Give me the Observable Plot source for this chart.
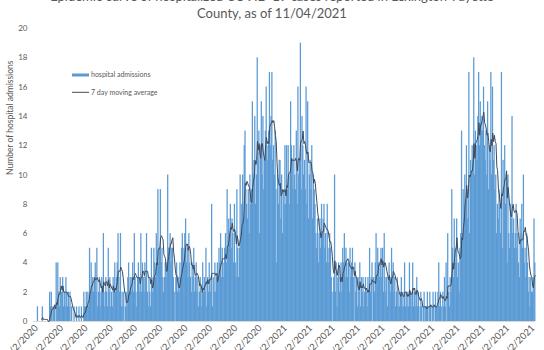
<!DOCTYPE html>
<html><head><meta charset="utf-8">
<script src="https://cdn.jsdelivr.net/npm/d3@7"></script>
<script src="https://cdn.jsdelivr.net/npm/@observablehq/plot@0.6"></script>
<style>
html,body{margin:0;padding:0;background:#fff;overflow:hidden;}
#wrap{position:relative;width:544px;height:350px;overflow:hidden;font-family:Lato,"Open Sans",sans-serif;}
#title{position:absolute;left:0;top:-12.3px;width:544px;text-align:center;font-size:13px;line-height:17.5px;color:#595959;white-space:nowrap;}
#chart{position:absolute;left:0;top:0;}
</style></head>
<body>
<div id="wrap">
  <div id="chart"></div>
  <div id="title">Epidemic curve of hospitalized COVID-19 cases reported in Lexington-Fayette<br>County, as of 11/04/2021</div>
</div>
<script>
// Daily hospital admissions, starting 3/2/2020, one array per month
const mar2020 = [0,1,0,0,0,0,0,1,0,0,0,0,0,0,0,0,2,1,2,1,0,1,1,0,4,1,4,2,1,3];
const apr2020 = [2,2,3,1,2,1,3,2,1,2,1,2,0,1,0,0,1,0,0,1,0,0,1,0,0,1,0,0,2,1];
const may2020 = [1,2,1,2,1,5,2,4,2,3,2,3,4,2,5,1,2,3,1,2,3,2,6,1,2,3,2,1,5,2,3];
const jun2020 = [1,2,1,3,2,4,2,3,4,6,3,2,6,1,2,1,2,0,1,2,1,3,4,2,3,2,3,4,2,6];
const jul2020 = [3,2,1,3,4,2,3,6,2,4,3,2,4,3,6,2,1,3,2,1,5,2,3,5,4,3,6,4,9,4,5];
const aug2020 = [9,4,5,3,2,3,4,3,4,10,5,5,6,4,5,5,3,2,0,3,4,2,3,2,4,3,5,6,4,5,6];
const sep2020 = [7,4,5,3,6,4,3,2,4,3,5,2,3,4,2,3,1,2,3,2,1,4,2,3,2,5,1,3,2,4];
const oct2020 = [3,2,8,1,3,2,4,2,3,4,3,5,4,6,3,5,4,3,5,6,4,9,5,7,6,8,5,7,6,4,8];
const nov2020 = [4,3,9,5,3,5,10,6,8,10,7,12,13,9,8,7,9,6,10,8,9,15,10,11,14,8,10,18,11,13];
const dec2020 = [6,12,15,10,14,9,11,13,16,12,11,13,17,12,14,17,11,12,10,13,9,4,10,8,11,11,7,10,6,9,8];
const jan2021 = [12,8,12,9,12,10,8,15,12,11,9,12,10,9,13,8,16,10,11,19,9,14,12,10,11,9,16,8,15,7,10];
const feb2021 = [11,9,12,7,10,9,8,6,5,7,4,6,7,5,8,6,7,8,5,6,4,8,5,4,6,5,3,0];
const mar2021 = [2,3,10,2,4,1,3,4,2,3,4,2,5,4,6,3,5,4,3,4,2,5,3,4,5,3,0,4,2,3,1];
const apr2021 = [3,2,4,1,3,2,3,1,2,3,2,1,3,2,5,2,3,4,0,3,2,4,6,3,5,4,3,4,5,3];
const may2021 = [5,2,6,3,2,3,1,3,4,3,2,5,3,4,2,3,1,2,3,1,2,1,2,3,1,2,1,4,1,2,1];
const jun2021 = [2,1,4,2,1,2,4,1,2,1,2,3,1,2,0,1,2,1,0,1,2,0,1,1,2,0,1,2,1,0];
const jul2021 = [1,2,1,0,2,1,1,2,4,1,2,1,0,2,1,3,1,4,0,6,2,1,3,2,9,5,3,7,5,4,7];
const aug2021 = [3,4,2,5,6,13,6,9,7,10,8,12,7,9,17,6,11,10,12,11,18,10,13,12,11,14,17,12,15,13,14];
const sep2021 = [13,16,12,11,13,10,15,9,12,11,17,10,16,11,12,9,10,6,8,7,9,8,6,17,5,11,9,12,8,10];
const oct2021 = [4,10,6,5,8,7,14,6,7,5,6,8,5,6,4,3,7,6,8,5,10,4,5,3,6,4,2,3,1,3,2];
const nov2021 = [2,3,7,4];

const yTicks = [0,2,4,6,8,10,12,14,16,18,20];
const yTitle = "Number of hospital admissions";
const seriesNames = ["hospital admissions", "7 day moving average"];

const start = new Date(Date.UTC(2020, 2, 2));
const counts = [mar2020,apr2020,may2020,jun2020,jul2020,aug2020,sep2020,oct2020,nov2020,dec2020,
  jan2021,feb2021,mar2021,apr2021,may2021,jun2021,jul2021,aug2021,sep2021,oct2021,nov2021].flat();
const data = counts.map((v, i) => ({date: d3.utcDay.offset(start, i), value: v}));
const end = d3.utcDay.offset(start, counts.length);
const xTicks = d3.utcMonth.range(new Date(Date.UTC(2020,2,1)), new Date(Date.UTC(2021,10,2))).map(d => d3.utcDay.offset(d, 1));

const barColor = "#5B9BD5", lineColor = "#3E4A5C", textColor = "#595959";

const chart = Plot.plot({
  width: 544, height: 350,
  marginTop: 28, marginBottom: 29, marginLeft: 33, marginRight: 9,
  style: {fontFamily: "Lato, 'Open Sans', sans-serif", fontSize: "9.5px", color: textColor, background: "transparent", overflow: "visible"},
  x: {type: "utc", domain: [start, end], insetLeft: 3, ticks: xTicks, tickFormat: d3.utcFormat("%-m/%-d/%Y"),
      tickRotate: -45, tickSize: 0, tickPadding: 5, label: null},
  y: {domain: [0, 20], ticks: yTicks, tickSize: 0, tickPadding: 6, label: null, tickFormat: d => String(d)},
  marks: [
    Plot.rectY(data, {x: "date", y: "value", interval: "day", fill: barColor, inset: 0, insetRight: -0.45}),
    Plot.ruleY([0], {stroke: "#d9d9d9", strokeWidth: 1}),
    Plot.lineY(data, Plot.windowY({k: 7, anchor: "end", strict: true},
      {x: d => d3.utcHour.offset(d.date, 12), y: "value", stroke: lineColor, strokeWidth: 1})),
    Plot.text([yTitle], {frameAnchor: "left", rotate: -90, dx: -23, fontSize: 8.5, fill: textColor})
  ]
});
// y tick labels a bit smaller than x tick labels
d3.select(chart).selectAll("g[aria-label='y-axis tick label'] text").attr("font-size", 8);
document.getElementById("chart").appendChild(chart);

// legend inside plot area
const svg = d3.select(chart);
const lg = svg.append("g").attr("font-family", "Lato, 'Open Sans', sans-serif").attr("font-size", 7)
  .attr("fill", textColor).attr("text-anchor", "start");
lg.append("rect").attr("x", 72).attr("y", 73.5).attr("width", 17).attr("height", 3).attr("fill", barColor);
lg.append("text").attr("x", 91).attr("y", 75).attr("dy", "0.35em").text(seriesNames[0]);
lg.append("line").attr("x1", 72).attr("x2", 89).attr("y1", 92.3).attr("y2", 92.3).attr("stroke", lineColor).attr("stroke-width", 1);
lg.append("text").attr("x", 91).attr("y", 92.3).attr("dy", "0.35em").text(seriesNames[1]);
</script>
</body></html>
